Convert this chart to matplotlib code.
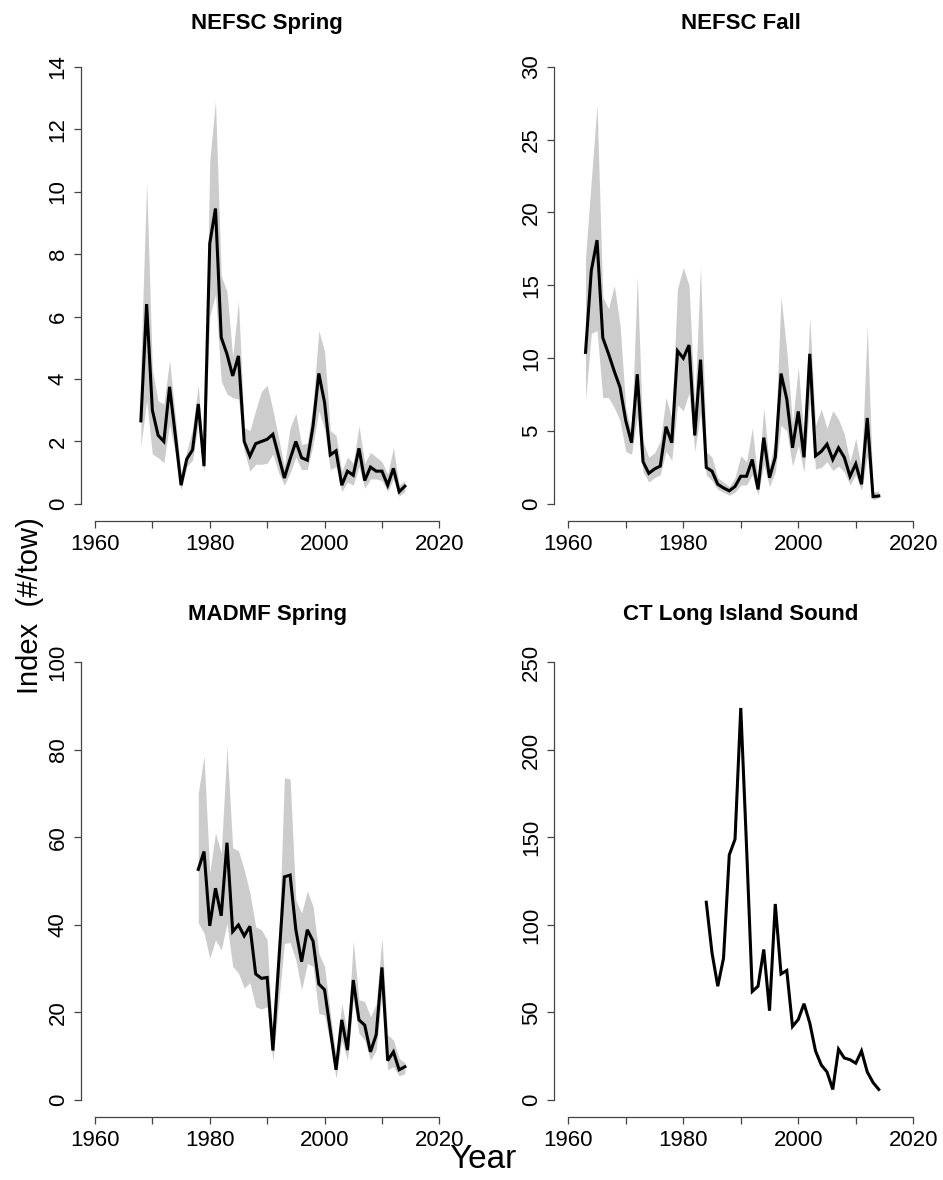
import matplotlib
matplotlib.use("Agg")
import matplotlib.pyplot as plt
import numpy as np

plt.rcParams['font.family'] = ['Liberation Sans', 'DejaVu Sans']

# NEFSC spring survey, index with confidence band
spring_years = np.arange(1968, 2015)
spring_idx = [2.66, 6.4, 3.0, 2.2, 2.0, 3.75, 2.2, 0.6, 1.44, 1.73,
              3.2, 1.21, 8.34, 9.46, 5.33, 4.8, 4.1, 4.74, 2.0, 1.53,
              1.93, 2.0, 2.07, 2.23, 1.53, 0.83, 1.44, 2.0, 1.48, 1.4,
              2.5, 4.18, 3.25, 1.57, 1.7, 0.6, 1.05, 0.92, 1.78, 0.75,
              1.18, 1.05, 1.05, 0.6, 1.14, 0.39, 0.57]
spring_lo = [1.85, 3.3, 1.6, 1.48, 1.32, 2.56, 1.6, 0.45, 1.2, 1.4,
             2.56, 1.0, 6.0, 6.7, 3.94, 3.52, 3.4, 3.36, 1.7, 1.05,
             1.27, 1.27, 1.3, 1.6, 1.0, 0.6, 1.0, 1.5, 1.1, 1.1,
             1.9, 2.98, 2.4, 1.1, 1.2, 0.4, 0.7, 0.6, 1.2, 0.5,
             0.8, 0.8, 0.75, 0.4, 0.8, 0.25, 0.4]
spring_hi = [4.5, 10.3, 4.3, 3.3, 3.2, 4.6, 2.8, 1.0, 1.7, 2.4,
             3.8, 1.4, 11.0, 12.9, 7.3, 6.8, 4.7, 6.5, 2.45, 2.35,
             3.0, 3.6, 3.8, 3.0, 2.1, 1.2, 2.45, 2.9, 1.9, 1.95,
             3.2, 5.55, 4.9, 2.35, 2.2, 1.05, 1.5, 1.3, 2.5, 1.3,
             1.65, 1.5, 1.35, 0.95, 1.8, 0.6, 0.75]

# NEFSC fall survey
fall_years = np.arange(1963, 2015)
fall_idx = [10.4, 16.0, 18.1, 11.4, 10.3, 9.1, 8.0, 5.7, 4.2, 8.9,
            2.9, 2.1, 2.4, 2.6, 5.3, 4.2, 10.5, 10.0, 10.9, 4.7,
            9.9, 2.5, 2.25, 1.35, 1.1, 0.9, 1.2, 1.9, 1.9, 3.05,
            1.0, 4.55, 1.8, 3.2, 8.95, 7.2, 3.85, 6.35, 3.2, 10.3,
            3.3, 3.6, 4.1, 3.05, 3.85, 3.2, 1.9, 2.75, 1.35, 5.9,
            0.5, 0.55]
fall_lo = [7.1, 11.7, 11.9, 7.3, 7.3, 6.6, 5.7, 3.6, 3.4, 6.0,
           2.2, 1.5, 1.8, 2.0, 3.6, 3.0, 6.8, 6.4, 7.6, 3.6,
           6.2, 2.0, 1.6, 1.0, 0.8, 0.6, 0.8, 1.3, 1.3, 2.0,
           0.6, 2.7, 1.2, 2.2, 5.4, 5.0, 2.6, 4.0, 2.2, 7.0,
           2.4, 2.5, 2.9, 2.3, 2.6, 2.2, 1.3, 2.0, 0.9, 3.3,
           0.3, 0.4]
fall_hi = [16.9, 22.2, 27.4, 14.2, 13.4, 15.0, 12.3, 6.6, 4.8, 15.6,
           4.3, 3.2, 3.5, 4.3, 7.3, 5.9, 14.8, 16.2, 15.0, 6.8,
           16.3, 3.6, 3.2, 1.8, 1.5, 1.2, 1.8, 3.3, 2.9, 5.2,
           1.6, 6.6, 2.6, 4.5, 14.2, 10.5, 5.5, 9.4, 4.5, 12.8,
           5.4, 6.5, 5.2, 6.4, 5.8, 4.8, 2.9, 4.5, 2.4, 12.2,
           0.8, 0.9]

# MADMF spring survey
madmf_years = np.arange(1978, 2015)
madmf_idx = [52.7, 56.8, 39.8, 48.4, 42.1, 58.8, 38.5, 40.0, 37.5, 39.7,
             28.8, 27.8, 28.0, 11.3, 31.2, 51.0, 51.4, 38.9, 31.6, 38.9,
             36.3, 26.5, 25.2, 16.0, 6.9, 18.3, 11.4, 27.4, 18.3, 17.1,
             11.0, 14.9, 30.3, 9.0, 11.0, 6.9, 7.6]
madmf_lo = [40.5, 38.2, 32.4, 36.6, 34.3, 40.4, 30.5, 29.0, 25.6, 26.8,
            21.3, 20.8, 21.3, 9.0, 22.0, 35.8, 36.0, 32.0, 25.1, 31.2,
            30.5, 19.8, 19.4, 13.0, 5.0, 13.6, 9.1, 22.9, 15.2, 13.7,
            9.1, 11.4, 24.4, 6.9, 7.6, 5.5, 6.0]
madmf_hi = [70.1, 78.6, 52.0, 61.0, 56.4, 80.8, 57.6, 57.0, 52.6, 47.3,
            39.6, 38.9, 36.6, 14.0, 35.0, 73.6, 73.4, 45.7, 42.7, 47.8,
            44.2, 33.5, 30.5, 19.8, 9.9, 22.1, 15.2, 36.2, 22.9, 22.5,
            19.0, 22.0, 37.0, 14.9, 13.7, 9.5, 8.5]

# CT Long Island Sound survey (no band)
ct_years = np.arange(1984, 2015)
ct_idx = [113, 84, 65, 81, 140, 149, 224, 145, 62, 65,
          86, 51, 112, 72, 74, 42, 46, 55, 44, 28,
          20, 16, 6, 29, 24, 23, 21, 28, 16, 10, 6]

year_ticks = list(range(1960, 2021, 10))
year_labels = ['1960', '', '1980', '', '2000', '', '2020']

fig = plt.figure(figsize=(9.43, 11.8), dpi=100)

panels = [
    ([0.0861, 0.5581, 0.3944, 0.4002], 'NEFSC Spring', spring_years, spring_idx, spring_lo, spring_hi, 14, 2, 0.9805),
    ([0.5880, 0.5581, 0.3951, 0.4002], 'NEFSC Fall', fall_years, fall_idx, fall_lo, fall_hi, 30, 5, 0.9805),
    ([0.0861, 0.0530, 0.3944, 0.4004], 'MADMF Spring', madmf_years, madmf_idx, madmf_lo, madmf_hi, 100, 20, 0.4790),
    ([0.5880, 0.0530, 0.3951, 0.4004], 'CT Long Island Sound', ct_years, ct_idx, None, None, 250, 50, 0.4790),
]

axis_col = '#444444'

for box, title, yrs, idx, lo, hi, ymax, ystep, ty in panels:
    ax = fig.add_axes(box)
    padx = 0.04 * (2020 - 1960)
    pady = 0.04 * ymax
    ax.set_xlim(1960 - padx, 2020 + padx)
    ax.set_ylim(-pady, ymax + pady)
    if lo is not None:
        ax.fill_between(yrs, lo, hi, color='#cccccc', linewidth=0)
    ax.plot(yrs, idx, color='black', lw=2.2, solid_joinstyle='miter')

    ax.spines['top'].set_visible(False)
    ax.spines['right'].set_visible(False)
    for s in ['left', 'bottom']:
        ax.spines[s].set_color(axis_col)
        ax.spines[s].set_linewidth(0.9)
    ax.spines['left'].set_bounds(0, ymax)
    ax.spines['bottom'].set_bounds(1960, 2020)

    ax.set_xticks(year_ticks)
    ax.set_xticklabels(year_labels)
    yt = np.arange(0, ymax + 1, ystep)
    ax.set_yticks(yt)
    ax.set_yticklabels([str(v) for v in yt], rotation=90, va='center')
    ax.tick_params(axis='both', length=5, width=0.9, color=axis_col,
                   labelsize=16, pad=4)

    cx = box[0] + box[2] / 2
    fig.text(cx, ty, title, ha='center', va='center', fontsize=16,
             fontweight='bold')

fig.text(0.032, 0.487, 'Index  (#/tow)', rotation=90, ha='center',
         va='center', fontsize=21)
fig.text(0.512, 0.017, 'Year', ha='center', va='center', fontsize=24)

fig.savefig('out.png', dpi=100)
